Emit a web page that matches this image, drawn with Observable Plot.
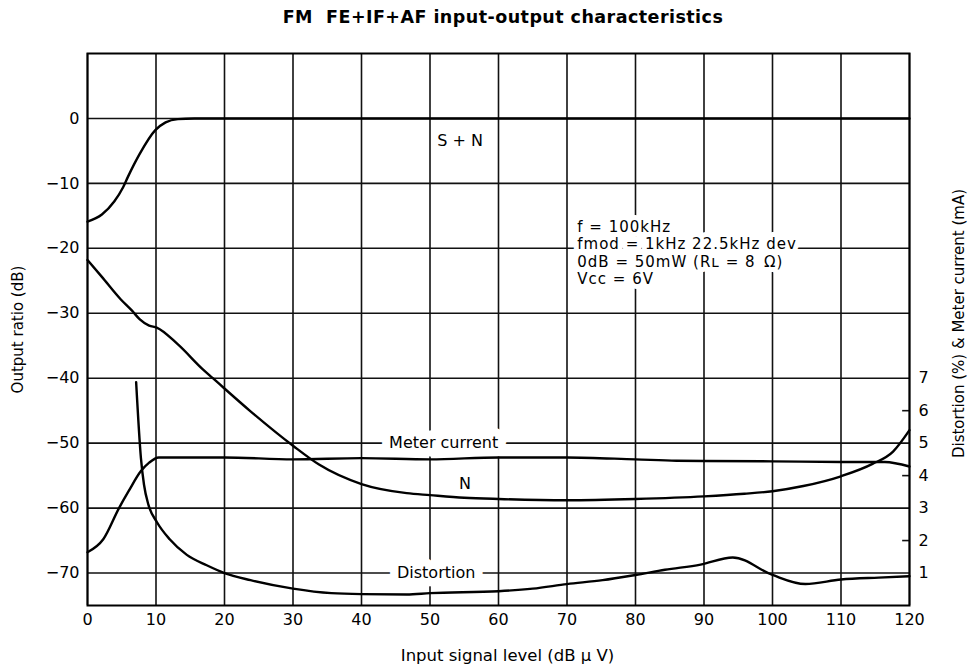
<!DOCTYPE html>
<html>
<head>
<meta charset="utf-8">
<script src="https://cdn.jsdelivr.net/npm/d3@7"></script>
<script src="https://cdn.jsdelivr.net/npm/@observablehq/plot@0.6"></script>
<style>
  html, body { margin: 0; padding: 0; background: #fff; }
  #title {
    width: 969px; height: 35px; line-height: 35px; box-sizing: border-box;
    padding-left: 37px; text-align: center; white-space: pre;
    font-family: "DejaVu Sans", sans-serif; font-weight: bold; font-size: 17.5px;
    letter-spacing: 0.45px; color: #000;
  }
  #chart svg { display: block; }
  #chart .note text { letter-spacing: 1px; }
</style>
</head>
<body>
<div id="title">FM  FE+IF+AF input-output characteristics</div>
<div id="chart"></div>
<script>
// ---- axes / ticks ----
const xTicks = [0, 10, 20, 30, 40, 50, 60, 70, 80, 90, 100, 110, 120];
const yTicks = [0, -10, -20, -30, -40, -50, -60, -70];
const rightTicks = [1, 2, 3, 4, 5, 6, 7];
const rightMinorTicks = [2, 4, 6];
const xDomain = [0, 120];
const yDomain = [-75, 10];
// right axis (Distortion % & Meter current mA): 0 at -75 dB, 5 dB per unit
const rightBase = -75;
const rightStep = 5;

// ---- S + N (dB) ----
const snX = [0, 2.1, 3.9, 5.2, 5.9, 7.6, 9.9, 11.4, 13.2, 15.6, 30, 60, 90, 120];
const snY = [-15.9, -14.8, -12.8, -10.6, -9.0, -5.5, -1.8, -0.6, -0.1, 0, 0, 0, 0, 0];

// ---- N (dB) ----
const nX = [0, 2.1, 4.8, 6.5, 7.6, 9.0, 10.1, 13.2, 16.8, 18.3, 23.8, 30, 33.8, 40, 46.6, 50, 55, 60, 70, 80, 90, 95.9, 100, 104.5, 110, 114.6, 117.6, 120];
const nY = [-21.8, -24.4, -27.8, -29.6, -30.9, -31.9, -32.2, -34.8, -38.6, -40, -45.1, -50.4, -53.3, -56.3, -57.7, -58, -58.4, -58.6, -58.8, -58.6, -58.2, -57.8, -57.4, -56.6, -55.1, -53.2, -51.3, -48.0];

// ---- Meter current (mA) ----
const meterX = [0, 2.3, 4.6, 6.0, 7.8, 9.0, 10.4, 13, 20, 30, 40, 50, 60, 70, 80, 86, 90, 100, 110, 116.4, 120];
const meterV = [1.64, 2.04, 3.0, 3.52, 4.14, 4.4, 4.56, 4.56, 4.56, 4.5, 4.54, 4.5, 4.56, 4.56, 4.5, 4.46, 4.45, 4.44, 4.42, 4.42, 4.28];

// ---- Distortion (%) ----
const distX = [7.1, 7.8, 8.25, 8.9, 10.1, 12.0, 14.5, 17.4, 20, 23.8, 30, 35.6, 40, 46.6, 50, 60, 65, 70, 75.2, 80, 84.3, 89.5, 94.2, 100, 104.8, 110, 115.5, 120];
const distV = [6.88, 4.54, 3.72, 3.1, 2.58, 2.04, 1.56, 1.24, 1.0, 0.78, 0.52, 0.38, 0.35, 0.34, 0.38, 0.44, 0.52, 0.66, 0.78, 0.94, 1.1, 1.26, 1.48, 0.94, 0.66, 0.8, 0.86, 0.9];

// ---- in-chart labels ----
const labelText = ["S + N", "Meter current", "N", "Distortion"];
const labelX = [54.4, 52.0, 55.1, 50.9];
const labelY = [-3.4, -50, -56.2, -70];

const noteText = "f = 100kHz\nfmod = 1kHz 22.5kHz dev\n0dB = 50mW (R\u029F = 8\u2002\u03A9)\nVcc = 6V";
const noteX = 71.5;
const noteY = -15.5;

const titleX = "Input signal level (dB \u03BC V)";
const titleY = "Output ratio (dB)";
const titleR = "Distortion (%) & Meter current (mA)";

// ---- build tables ----
const toDb = v => rightBase + rightStep * v;
const sn = snX.map((x, i) => ({x, y: snY[i]}));
const nn = nX.map((x, i) => ({x, y: nY[i]}));
const meter = meterX.map((x, i) => ({x, y: toDb(meterV[i])}));
const dist = distX.map((x, i) => ({x, y: toDb(distV[i])}));
const labels = labelText.map((t, i) => ({t, x: labelX[i], y: labelY[i]}));
const onGrid = labels.filter(d => yTicks.includes(d.y));    // labels that interrupt a grid line
const offGrid = labels.filter(d => !yTicks.includes(d.y));

const minus = d => d < 0 ? "\u2212" + (-d) : String(d);
const lineOpts = {x: "x", y: "y", stroke: "#000", strokeWidth: 2.4, curve: "monotone-x"};

const chart = Plot.plot({
  width: 969,
  height: 632,
  marginLeft: 87,
  marginRight: 60,
  marginTop: 18,
  marginBottom: 62,
  style: {fontFamily: "DejaVu Sans", fontSize: "16px", color: "#000", background: "#fff", overflow: "visible"},
  x: {domain: xDomain},
  y: {domain: yDomain},
  marks: [
    Plot.ruleX(xTicks, {stroke: "#111", strokeWidth: 1.6}),
    Plot.ruleY(yTicks, {stroke: "#111", strokeWidth: 1.6}),
    Plot.ruleY(rightMinorTicks.map(toDb), {y: d => d, x1: xDomain[1] - 1, x2: xDomain[1], stroke: "#111", strokeWidth: 1.6}),
    Plot.axisX({ticks: xTicks, tickSize: 0, tickPadding: 8, label: null, tickFormat: d => String(d), fontSize: 16}),
    Plot.axisY({ticks: yTicks, tickSize: 0, tickPadding: 8, label: null, tickFormat: minus, fontSize: 16}),
    Plot.axisY({anchor: "right", ticks: rightTicks.map(toDb), tickSize: 0, tickPadding: 9, label: null,
      tickFormat: d => String(Math.round((d - rightBase) / rightStep)), fontSize: 16}),
    Plot.text(onGrid, {x: "x", y: "y", text: "t", fontSize: 16, fill: "#000",
      stroke: "#fff", strokeWidth: 17, strokeLinejoin: "round", paintOrder: "stroke"}),
    Plot.text(offGrid, {x: "x", y: "y", text: "t", fontSize: 16, fill: "#000"}),
    Plot.text([noteText], {x: noteX, y: noteY, text: d => d, textAnchor: "start", lineAnchor: "top",
      lineHeight: 1.17, fontSize: 15, fill: "#000", className: "note",
      stroke: "#fff", strokeWidth: 10, strokeLinejoin: "round", paintOrder: "stroke"}),
    Plot.line(sn, lineOpts),
    Plot.line(nn, lineOpts),
    Plot.line(meter, lineOpts),
    Plot.line(dist, lineOpts),
    Plot.frame({stroke: "#000", strokeWidth: 2}),
    Plot.text([titleY], {frameAnchor: "left", dx: -69, rotate: -90, textAnchor: "middle", lineAnchor: "middle", fontSize: 15, fill: "#000"}),
    Plot.text([titleR], {frameAnchor: "right", dx: 50, dy: -6, rotate: -90, textAnchor: "middle", lineAnchor: "middle", fontSize: 15, fill: "#000"}),
    Plot.text([titleX], {frameAnchor: "bottom", dx: 9, dy: 50, textAnchor: "middle", lineAnchor: "middle", fontSize: 16.5, fill: "#000"})
  ]
});
document.getElementById("chart").appendChild(chart);
</script>
</body>
</html>
